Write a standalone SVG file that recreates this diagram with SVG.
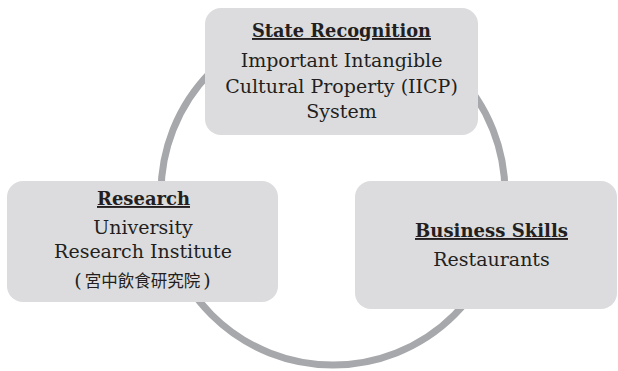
<svg xmlns="http://www.w3.org/2000/svg" width="618" height="371" viewBox="0 0 618 371">
<style>
.box{fill:#dcdcde;}
.t{font-family:"DejaVu Serif","Liberation Serif",serif;font-size:19px;fill:#231f20;text-anchor:middle;}
.h{font-weight:bold;text-decoration:underline;}
.cjk{font-family:"Noto Sans CJK TC","Noto Sans CJK JP",sans-serif;font-size:16.5px;}
</style>
<rect width="618" height="371" fill="#ffffff"/>
<g id="connectors">
<circle cx="333" cy="193" r="172" fill="none" stroke="#a7a8ab" stroke-width="7"/>
</g>
<g id="node-state">
<rect class="box" x="205" y="8" width="273" height="127" rx="16"/>
<text class="t h" x="341.5" y="37" textLength="179" lengthAdjust="spacingAndGlyphs">State Recognition</text>
<text class="t" x="341.5" y="67">Important Intangible</text>
<text class="t" x="341.5" y="93">Cultural Property (IICP)</text>
<text class="t" x="341.5" y="118">System</text>
</g>
<g id="node-research">
<rect class="box" x="7" y="181" width="271" height="121" rx="16"/>
<text class="t h" x="143.5" y="205" textLength="93" lengthAdjust="spacingAndGlyphs">Research</text>
<text class="t" x="143" y="234">University</text>
<text class="t" x="143" y="258">Research Institute</text>
<text class="t" x="142.5" y="287"><tspan>(</tspan><tspan class="cjk" dx="3">宮中飲食研究院</tspan><tspan dx="3">)</tspan></text>
</g>
<g id="node-business">
<rect class="box" x="355" y="181" width="262" height="128" rx="16"/>
<text class="t h" x="491.5" y="237" textLength="153" lengthAdjust="spacingAndGlyphs">Business Skills</text>
<text class="t" x="491.5" y="266">Restaurants</text>
</g>
</svg>
